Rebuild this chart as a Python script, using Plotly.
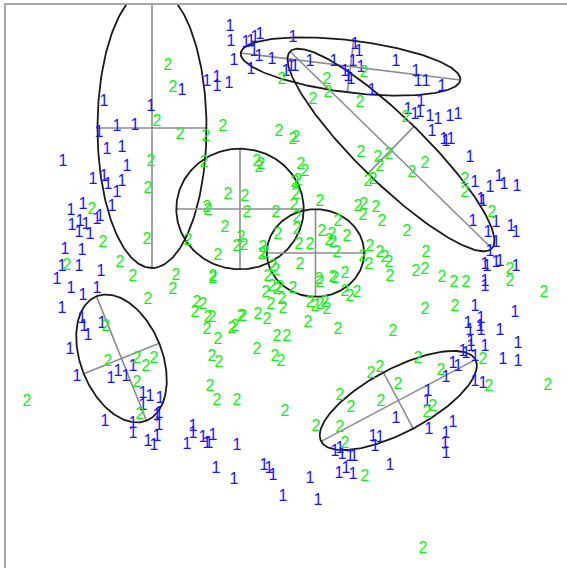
import numpy as np
import plotly.graph_objects as go

# ---- data (plot units: x to the right, y downward) ----
class1_points = [
    (230,27),(231,42),(246,43),(251,42),(255,38),(260,35),(234,61),(254,52),(259,57),(272,60),(251,70),
    (182,91),(207,82),(217,78),(217,87),(229,84),
    (104,102),(151,107),(99,133),(117,127),(135,126),
    (63,162),(107,150),(122,148),(127,167),
    (93,180),(104,177),(108,185),(117,193),(122,182),
    (71,211),(83,205),(72,226),(80,222),(86,225),(97,220),(100,217),(112,207),
    (79,233),(90,235),(65,250),(82,251),(62,267),(79,267),(101,272),(57,280),
    (293,38),(355,45),(359,52),(291,67),(295,67),(286,72),(310,62),(334,62),(353,62),(361,68),
    (345,72),(348,77),(351,80),(396,62),(416,72),(418,82),(426,82),(442,87),(372,91),
    (421,102),(408,110),(415,115),(420,113),(430,117),(438,120),(450,117),(458,115),(432,132),
    (444,140),(446,142),(451,140),
    (470,158),(475,183),(490,188),(499,177),(504,185),(517,187),(481,200),(483,202),(473,222),
    (496,223),(511,227),(516,233),(488,233),(496,243),(490,252),(485,265),(487,267),(496,263),
    (500,262),(516,267),(485,282),
    (71,289),(83,296),(97,289),(62,309),(82,319),(84,327),(88,336),(102,324),(70,350),(77,377),
    (111,379),(118,372),(126,377),(133,367),(143,394),(150,397),(160,399),(143,406),(159,414),
    (157,416),(105,422),(133,424),(133,434),(159,426),(157,437),(148,442),(154,446),
    (193,427),(193,434),(187,445),(203,438),(207,444),(209,444),(213,436),(237,446),(216,469),
    (234,480),(264,466),(269,469),(273,476),(283,497),
    (485,287),(475,307),(515,313),(468,324),(470,331),(481,319),(480,327),(481,331),(500,331),
    (518,344),(471,342),(471,347),(485,347),(463,352),(466,354),(475,357),(503,360),(518,362),
    (446,378),(453,364),(458,367),(475,382),(483,384),(428,392),(427,402),(396,419),(429,430),
    (453,423),(446,434),(445,444),(446,454),(373,437),(380,438),(375,447),(335,452),(340,449),
    (342,455),(350,457),(354,457),(339,474),(346,469),(353,475),(390,466),(310,479),(318,501),
]

class2_points = [
    (168,66),(173,88),(157,122),(180,135),(206,137),(223,127),(279,132),(151,162),(204,163),
    (148,189),(92,210),(103,243),(147,240),(188,241),(228,195),(245,197),(207,208),(208,211),
    (247,213),(276,213),(225,228),(241,238),(237,247),(244,246),(218,256),(263,248),(262,255),
    (265,253),(278,235),(257,162),(261,165),(259,168),(67,266),(120,263),(133,277),(176,276),
    (213,277),(213,279),(273,267),(276,271),(268,277),(282,80),
    (327,80),(328,93),(313,100),(360,103),(364,73),(406,118),(293,140),(296,138),(361,153),
    (378,158),(389,155),(380,167),(368,182),(373,180),(412,173),(425,164),(465,180),(465,193),
    (492,213),(510,270),(510,282),(301,165),(305,172),(295,183),(298,181),(296,195),(294,206),
    (297,218),(297,230),(299,245),(310,245),(300,265),(320,202),(338,222),(322,232),(332,235),
    (329,241),(333,243),(337,253),(347,237),(358,207),(364,205),(376,208),(363,216),(382,222),
    (407,232),(370,247),(369,265),(363,257),(380,253),(385,258),(389,263),
    (426,253),(416,272),(425,270),(442,278),(454,283),(466,283),(390,277),(345,274),(333,278),
    (335,279),(319,280),
    (266,293),(272,287),(277,290),(280,288),(282,300),(271,305),(293,289),(320,283),(310,303),
    (315,307),(320,305),(325,303),(327,310),(345,292),(350,297),(357,293),(173,290),(148,300),
    (197,303),(203,305),(195,313),(208,318),(212,318),(207,330),(241,317),(243,317),(235,327),
    (232,329),(258,315),(267,320),(308,323),(338,330),(277,337),(287,337),(218,340),
    (106,327),(108,362),(137,359),(146,367),(154,359),(137,383),(140,415),(27,402),(210,387),
    (217,401),(237,401),(212,357),(219,363),(257,350),(275,357),(281,362),(285,412),
    (283,309),(393,332),(425,310),(455,307),(544,293),(483,360),(418,359),(380,368),(371,374),
    (441,371),(489,387),(548,386),(398,385),(340,396),(381,402),(351,408),(433,407),(427,413),
    (316,427),(340,428),(345,444),(365,477),(423,549),
]

# ellipse parameters: centre, semi-axes, orientation of major axis (deg)
ell_cx = [152.0, 350.5, 391.0, 240.0, 315.5, 121.5, 398.3]
ell_cy = [128.0, 66.5, 150.0, 209.0, 253.0, 358.5, 400.5]
ell_a = [140.0, 110.6, 141.0, 63.7, 48.7, 67.0, 87.3]
ell_b = [54.5, 26.0, 33.0, 60.3, 43.8, 40.7, 31.8]
ell_ang = [90.0, 7.0, 44.3, 0.0, 0.0, 68.1, -27.9]

fig = go.Figure()

t = np.linspace(0, 2 * np.pi, 241)
for cx, cy, a, b, ang in zip(ell_cx, ell_cy, ell_a, ell_b, ell_ang):
    th = np.deg2rad(ang)
    c, s = np.cos(th), np.sin(th)
    # axes
    fig.add_trace(go.Scatter(x=[cx - a * c, cx + a * c], y=[cy - a * s, cy + a * s],
                             mode="lines", line=dict(color="#8c8c8c", width=1.6),
                             hoverinfo="skip", showlegend=False))
    fig.add_trace(go.Scatter(x=[cx + b * s, cx - b * s], y=[cy - b * c, cy + b * c],
                             mode="lines", line=dict(color="#8c8c8c", width=1.6),
                             hoverinfo="skip", showlegend=False))
    ex = cx + a * np.cos(t) * c - b * np.sin(t) * s
    ey = cy + a * np.cos(t) * s + b * np.sin(t) * c
    fig.add_trace(go.Scatter(x=ex, y=ey, mode="lines",
                             line=dict(color="#1a1a1a", width=1.8),
                             hoverinfo="skip", showlegend=False))

x1, y1 = zip(*class1_points)
x2, y2 = zip(*class2_points)
fig.add_trace(go.Scatter(x=x1, y=y1, mode="text", text=["1"] * len(x1),
                         textposition="middle center",
                         textfont=dict(color="#1414ff", size=16, family="Liberation Sans, Arial"),
                         showlegend=False))
fig.add_trace(go.Scatter(x=x2, y=y2, mode="text", text=["2"] * len(x2),
                         textposition="middle center",
                         textfont=dict(color="#14f014", size=16, family="Liberation Sans, Arial"),
                         showlegend=False))

fig.update_layout(
    width=567, height=568,
    margin=dict(l=6, r=0, t=5, b=0),
    paper_bgcolor="white", plot_bgcolor="white",
    xaxis=dict(range=[6, 567], showgrid=False, zeroline=False, showticklabels=False,
               ticks="", side="top", showline=True, linecolor="#a8a8a8", linewidth=2),
    yaxis=dict(range=[568, 5], showgrid=False, zeroline=False, showticklabels=False,
               ticks="", showline=True, linecolor="#a8a8a8", linewidth=2),
)

fig.write_html("out.html")
